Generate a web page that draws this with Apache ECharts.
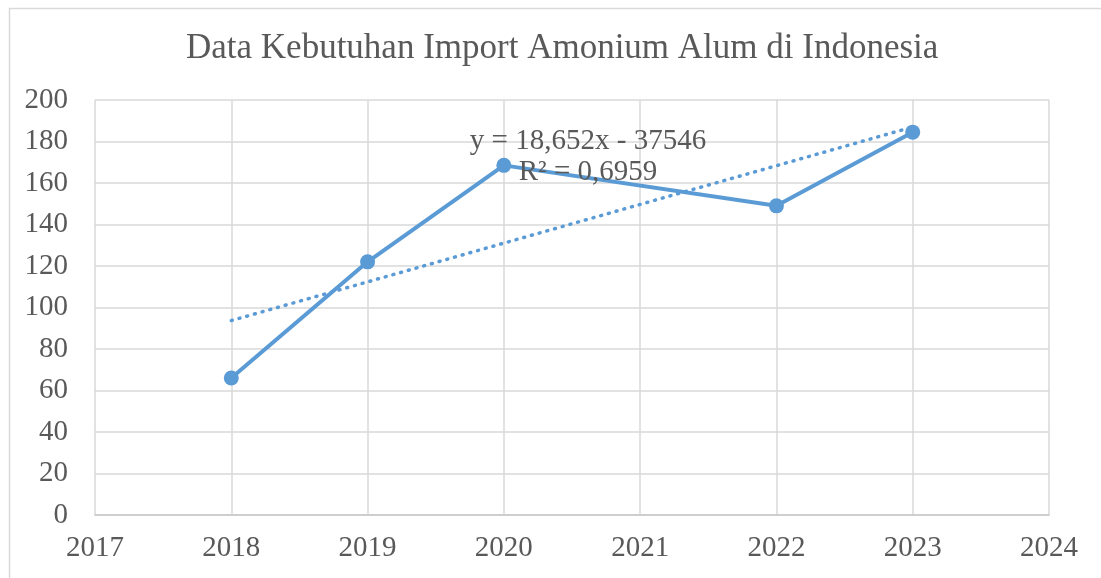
<!DOCTYPE html>
<html>
<head>
<meta charset="utf-8">
<script src="https://cdn.jsdelivr.net/npm/echarts@6/dist/echarts.min.js"></script>
<style>
html,body{margin:0;padding:0;background:#fff;}
#chart{width:1101px;height:578px;}
</style>
</head>
<body>
<div id="chart"></div>
<script>
const titleText = 'Data Kebutuhan Import Amonium Alum di Indonesia';
const years = [2018, 2019, 2020, 2022, 2023];
const values = [66, 122, 168.5, 149, 184.5];
const trendYears = [2018, 2023];
const trendValues = [93.7, 187.0];
const equationText = 'y = 18,652x - 37546\nR² = 0,6959';

const font = '"Liberation Serif", "Times New Roman", serif';
const textColor = '#595959';
const gridColor = '#d9d9d9';
const lineColor = '#5b9bd5';

const chart = echarts.init(document.getElementById('chart'));
chart.setOption({
  animation: false,
  backgroundColor: '#fff',
  title: {
    text: titleText,
    left: 181,
    top: 26,
    textStyle: { fontFamily: font, fontSize: 35, fontWeight: 'normal', color: textColor }
  },
  grid: { left: 95, right: 52, top: 100, bottom: 63 },
  xAxis: {
    type: 'value', min: 2017, max: 2024, interval: 1,
    axisLine: { show: true, lineStyle: { color: '#c8c8c8', width: 1.5 } },
    axisTick: { show: false },
    splitLine: { show: true, lineStyle: { color: gridColor, width: 1.5 } },
    axisLabel: { margin: 19, fontFamily: font, fontSize: 29, color: textColor, formatter: v => String(v) }
  },
  yAxis: {
    type: 'value', min: 0, max: 200, interval: 20,
    axisLine: { show: false },
    axisTick: { show: false },
    splitLine: { show: true, lineStyle: { color: gridColor, width: 1.5 } },
    axisLabel: { margin: 27, fontFamily: font, fontSize: 29, color: textColor }
  },
  series: [
    {
      type: 'line',
      data: years.map((y, i) => [y, values[i]]),
      symbol: 'circle', symbolSize: 15,
      lineStyle: { color: lineColor, width: 4 },
      itemStyle: { color: lineColor },
      z: 3
    },
    {
      type: 'line',
      data: trendYears.map((y, i) => [y, trendValues[i]]),
      symbol: 'none',
      lineStyle: { color: lineColor, width: 3.5, type: [1, 7], cap: 'round' },
      z: 4
    }
  ],
  graphic: [
    {
      type: 'rect', left: 7, top: 6, silent: true,
      shape: { width: 1110, height: 600 },
      style: { fill: 'none', stroke: gridColor, lineWidth: 1.5 }
    },
    {
      type: 'text', x: 588, y: 126, z: 10,
      style: {
        text: equationText, fontFamily: font, fontSize: 29, fill: textColor,
        align: 'center', verticalAlign: 'top', lineHeight: 31
      }
    }
  ]
});
</script>
</body>
</html>
